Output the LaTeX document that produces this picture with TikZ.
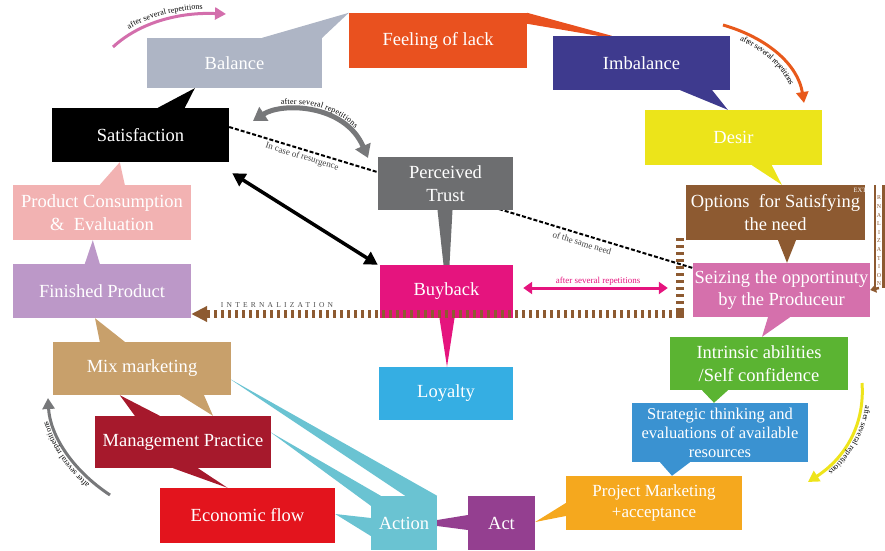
\documentclass[tikz,border=0pt]{standalone}
\usepackage{fontspec}
\setmainfont{Liberation Serif}
\newfontfamily\spacedfont[LetterSpace=43]{Liberation Serif}
\usetikzlibrary{arrows.meta,calc,decorations.text}
\pgfdeclarelayer{background}
\pgfsetlayers{background,main}

\definecolor{cBalance}{HTML}{AEB5C5}
\definecolor{cLack}{HTML}{E9511F}
\definecolor{cImbalance}{HTML}{3E3A8E}
\definecolor{cDesir}{HTML}{ECE41A}
\definecolor{cOptions}{HTML}{8D5A31}
\definecolor{cSeizing}{HTML}{D570AC}
\definecolor{cIntrinsic}{HTML}{5BB432}
\definecolor{cStrategic}{HTML}{3A92D1}
\definecolor{cProject}{HTML}{F5A81E}
\definecolor{cAct}{HTML}{943F90}
\definecolor{cAction}{HTML}{6AC3D2}
\definecolor{cEconomic}{HTML}{E3141D}
\definecolor{cManage}{HTML}{A6192C}
\definecolor{cMix}{HTML}{C8A06B}
\definecolor{cFinished}{HTML}{BC98C8}
\definecolor{cConsump}{HTML}{F2B2B2}
\definecolor{cTrust}{HTML}{6D6E70}
\definecolor{cBuyback}{HTML}{E5147E}
\definecolor{cLoyalty}{HTML}{35AEE3}
\definecolor{cPink}{HTML}{D36EAC}
\definecolor{cOrange}{HTML}{E8591B}
\definecolor{cYellow}{HTML}{EEE41B}
\definecolor{cGray}{HTML}{77787A}

\newcommand\curvefont{\fontsize{8}{9}\selectfont}

\begin{document}
\begin{tikzpicture}[x=1pt, y=1pt, >=Stealth,
  box/.style={rectangle, inner sep=0pt, text=white, align=center,
    font=\fontsize{18.5}{22.5}\selectfont},
  boxsize/.style 2 args={minimum width=#1pt, minimum height=#2pt},
  note/.style={inner sep=0pt, font=\fontsize{9}{10}\selectfont, text=black!75},
  curvearrow/.style={line width=3pt, -{Triangle[length=11pt,width=12pt]}},
  curvetext/.style={decorate, decoration={text along path, text align=center,
    raise=#1, text={|\curvefont|after several repetitions}}}]
\useasboundingbox (0,0) rectangle (885,550);

% boxes
\node[box, boxsize={175}{50}, fill=cBalance] (balance) at (234.5,487) {Balance};
\node[box, boxsize={178}{55}, fill=cLack] (lack) at (438,509.5) {Feeling of lack};
\node[box, boxsize={177}{54}, fill=cImbalance] (imbalance) at (641.5,487) {Imbalance};
\node[box, boxsize={177}{55}, fill=cDesir] (desir) at (733.5,412.5) {Desir};
\node[box, boxsize={179}{55}, fill=cOptions] (options) at (775.5,337.5) {Options\ \ for Satisfying\\the need};
\node[box, boxsize={177}{54}, fill=cSeizing] (seizing) at (781.5,260) {Seizing the opportinuty\\by the Produceur};
\node[box, boxsize={178}{53}, fill=cIntrinsic] (intrinsic) at (759,186.5) {Intrinsic abilities\\/Self confidence};
\node[box, boxsize={176}{59}, fill=cStrategic, font=\fontsize{16.5}{19}\selectfont] (strategic) at (720,117.5) {Strategic thinking and\\evaluations of available\\resources};
\node[box, boxsize={176}{54}, fill=cProject, font=\fontsize{17}{21}\selectfont] (project) at (654,47) {Project Marketing\\+acceptance};
\node[box, boxsize={67}{54}, fill=cAct] (act) at (501.5,27) {Act};
\node[box, boxsize={66}{54}, fill=cAction] (action) at (404,27) {Action};
\node[box, boxsize={175}{55}, fill=cEconomic] (economic) at (247.5,34.5) {Economic flow};
\node[box, boxsize={176}{52}, fill=cManage] (management) at (183,108) {Management Practice};
\node[box, boxsize={178}{53}, fill=cMix] (mix) at (142,181.5) {Mix marketing};
\node[box, boxsize={178}{54}, fill=cFinished] (finished) at (102,259) {Finished Product};
\node[box, boxsize={178}{55}, fill=cConsump] (consumption) at (102,337.5) {Product Consumption\\\&\ \ Evaluation};
\node[box, boxsize={177}{54}, fill=black] (satisfaction) at (140.5,415) {Satisfaction};
\node[box, boxsize={135}{53}, fill=cTrust] (trust) at (445.5,366.5) {Perceived\\Trust};
\node[box, boxsize={133}{53}, fill=cBuyback] (buyback) at (446.5,258.5) {Buyback};
\node[box, boxsize={134}{53}, fill=cLoyalty] (loyalty) at (446,156.5) {Loyalty};

% pointers between the boxes
\begin{pgfonlayer}{background}
\fill[cBalance] ($(balance.north east)+(-60,0)$) -- (balance.north east) -- (lack.north west) -- cycle;
\fill[cLack] (lack.north east) -- ($(lack.north east)+(0,-11)$) -- ($(imbalance.north west)+(45,0)$) -- ($(imbalance.north west)+(59,0)$) -- cycle;
\fill[cImbalance] ($(imbalance.south east)+(-50,0)$) -- ($(imbalance.south east)+(-18,0)$) -- ($(desir.north west)+(83,0)$) -- cycle;
\fill[cDesir] ($(desir.south west)+(107,0)$) -- ($(desir.south west)+(127,0)$) -- ($(options.north west)+(96,0)$) -- cycle;
\fill[cOptions] ($(options.south)+(2.5,0)$) -- ($(options.south)+(20.5,0)$) -- ($(seizing.north)+(5.5,0)$) -- cycle;
\fill[cSeizing] ($(seizing.south)+(-13.5,0)$) -- ($(seizing.south)+(8.5,0)$) -- ($(intrinsic.north)+(3,0)$) -- cycle;
\fill[cIntrinsic] ($(intrinsic.south)+(-57,0)$) -- ($(intrinsic.south)+(-31,0)$) -- ($(strategic.north)+(-6,0)$) -- cycle;
\fill[cStrategic] ($(strategic.south)+(-60,0)$) -- ($(strategic.south)+(-30,0)$) -- ($(project.north)+(18,0)$) -- cycle;
\fill[cProject] (project.west) -- ($(project.west)+(0,-13)$) -- ($(act.east)+(0,1)$) -- cycle;
\fill[cAct] ($(action.east)+(0,3)$) -- ($(action.east)+(0,-3)$) -- ($(act.west)+(0,-7)$) -- ($(act.west)+(0,8)$) -- cycle;
\fill[cAction] ($(mix.east)+(-2,-10)$) -- (action.north east) -- ($(action.north east)+(-32,0)$) -- cycle;
\fill[cAction] ($(management.east)+(-1,10)$) -- ($(action.north west)+(10,0)$) -- ($(action.north west)+(0,-10)$) -- cycle;
\fill[cAction] ($(economic.east)+(0,1.5)$) -- ($(action.west)+(0,5)$) -- ($(action.west)+(0,-13)$) -- cycle;
\fill[cManage] ($(mix.south west)+(67,0)$) -- ($(management.north west)+(40,0)$) -- ($(management.north west)+(65,0)$) -- cycle;
\fill[cMix] ($(mix.south)+(38,0)$) -- ($(mix.south)+(62,0)$) -- ($(management.north)+(30,0)$) -- cycle;
\fill[cManage] ($(management.south)+(-10,0)$) -- ($(management.south)+(15,0)$) -- ($(economic.north)+(-20,0)$) -- cycle;
\fill[cMix] ($(mix.north west)+(47,0)$) -- ($(mix.north west)+(72,0)$) -- ($(finished.south)+(-7,0)$) -- cycle;
\fill[cFinished] ($(finished.north west)+(72,0)$) -- ($(finished.north west)+(87,0)$) -- ($(consumption.south west)+(80,0)$) -- cycle;
\fill[cConsump] ($(consumption.north west)+(87,0)$) -- ($(consumption.north west)+(112,0)$) -- ($(satisfaction.south west)+(68,0)$) -- cycle;
\fill[black] ($(satisfaction.north west)+(106,0)$) -- ($(satisfaction.north west)+(133,0)$) -- ($(balance.south west)+(48,0)$) -- cycle;
\fill[cTrust] ($(trust.south)+(-8,0)$) -- ($(trust.south)+(7,0)$) -- ($(buyback.north)+(3,0)$) -- ($(buyback.north)+(-3,0)$) -- cycle;
\fill[cBuyback] ($(buyback.south)+(-7,0)$) -- ($(buyback.south)+(8,0)$) -- ($(loyalty.north)+(1,0)$) -- cycle;
% resurgence line
\draw[line width=2pt, dash pattern=on 4pt off 2pt] ($(satisfaction.east)+(0,8)$) -- ($(seizing.west)+(0,22)$);
\end{pgfonlayer}

\node[note, rotate=-17] (resurgence) at (302,393) {In case of resurgence};
\node[note, rotate=-17] (sameneed) at (582,307) {of the same need};

% satisfaction <-> buyback
\draw[line width=3.5pt, {Triangle[length=13pt,width=14pt]}-{Triangle[length=13pt,width=14pt]}]
  ($(satisfaction.south east)+(3,-11)$) -- ($(buyback.north west)+(-2,0)$);

% buyback <-> seizing
\draw[cBuyback, line width=3pt, {Triangle[length=9pt,width=12pt]}-{Triangle[length=9pt,width=12pt]}]
  ($(buyback.east)+(10,3.5)$) -- ($(seizing.west)+(-25,2)$);
\node[note, text=cBuyback] (repbuy) at (598,269) {after several repetitions};

% internalization
\coordinate (inttop) at (680,312);
\coordinate (intcorner) at (680,236);
\draw[cOptions, line width=8pt, dash pattern=on 3pt off 4pt, -{Triangle[length=16pt,width=15pt]}]
  (inttop) -- (intcorner) -- (finished.east |- intcorner);
\fill[cOptions] ($(intcorner)+(-4,-4)$) rectangle ($(intcorner)+(4,4)$);
\node[inner sep=0pt, text=black!70, font=\spacedfont\fontsize{7.5}{8}\selectfont] (internal) at (277,245) {INTERNALIZATION};

% externalization
\coordinate (exttop) at (879,365);
\coordinate (extbot) at (879,262);
\draw[cOptions, line width=2.5pt, double=white, double distance=6pt] (exttop) -- (extbot);
\draw[cOptions, line width=2.5pt, -{Triangle[length=6pt,width=8pt]}] (extbot) -- (seizing.east);
\node[inner sep=0pt, text=white, font=\fontsize{6.5}{7}\selectfont] (exte) at (862,360) {EXTE};
\node[inner sep=0pt, text=cOptions, align=center, font=\fontsize{6}{8.6}\selectfont] (rnal) at (879,309)
  {R\\N\\A\\L\\I\\Z\\A\\T\\I\\O\\N};

% curved arrows
\coordinate (pinkA) at (113,503);
\coordinate (pinkB) at (226,536);
\draw[curvearrow, cPink] (pinkA) .. controls (140,528) and (180,538) .. (pinkB);
\path[curvetext=5pt] (pinkA) .. controls (140,528) and (180,538) .. (pinkB);

\coordinate (orA) at (723,525);
\coordinate (orB) at (804,447);
\draw[curvearrow, cOrange] (orA) .. controls (768,512) and (798,485) .. (orB);
\path[curvetext=-9pt] (orA) .. controls (768,512) and (798,485) .. (orB);

\coordinate (yeA) at (862,167);
\coordinate (yeB) at (808,68);
\draw[curvearrow, cYellow] (yeA) .. controls (865,125) and (845,92) .. (yeB);
\path[curvetext=4pt] (yeA) .. controls (865,125) and (845,92) .. (yeB);

\coordinate (gyA) at (110,55);
\coordinate (gyB) at (48,152);
\draw[curvearrow, cGray] (gyA) .. controls (72,80) and (50,115) .. (gyB);
\path[curvetext=4pt] (gyA) .. controls (72,80) and (50,115) .. (gyB);

\coordinate (gdA) at (253,429);
\coordinate (gdB) at (368,392);
\draw[cGray, line width=5pt, {Triangle[length=13pt,width=16pt]}-{Triangle[length=13pt,width=16pt]}]
  (gdA) .. controls (282,448) and (345,446) .. (gdB);
\path[curvetext=6pt] (gdA) .. controls (282,448) and (345,446) .. (gdB);
\end{tikzpicture}
\end{document}
